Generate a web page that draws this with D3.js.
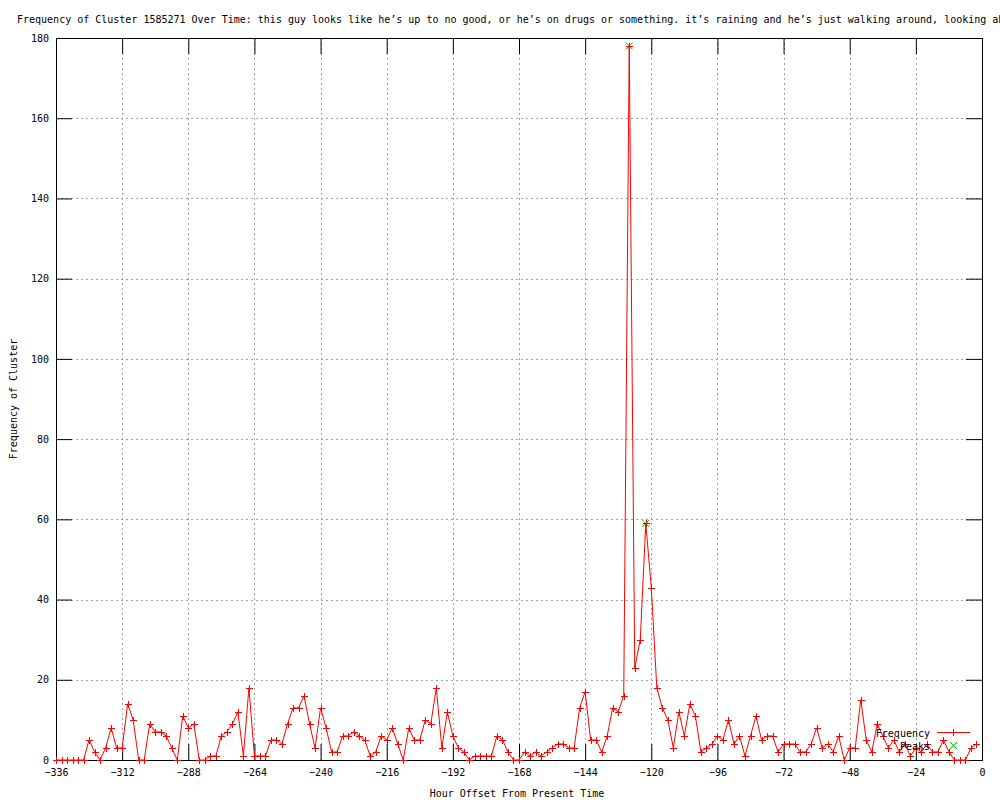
<!DOCTYPE html>
<html>
<head>
<meta charset="utf-8">
<script src="https://cdn.jsdelivr.net/npm/d3@7"></script>
<style>
    body { margin: 0; background: #fff; }
    svg { display: block; }
    text { font-family: "DejaVu Sans Mono", monospace; font-size: 10px; fill: #000; }
</style>
</head>
<body>
<div id="chart"></div>
<script>
// hour offsets, one reading every 2 hours
const hours = d3.range(-336, 0, 2);
const frequency = [
    0, 0, 0, 0, 0, 0, 5, 2, 0, 3, 8, 3, 3, 14, 10, 0, 0, 9, 7, 7,
    6, 3, 0, 11, 8, 9, 0, 0, 1, 1, 6, 7, 9, 12, 1, 18, 1, 1, 1, 5,
    5, 4, 9, 13, 13, 16, 9, 3, 13, 8, 2, 2, 6, 6, 7, 6, 5, 1, 2, 6,
    5, 8, 4, 0, 8, 5, 5, 10, 9, 18, 3, 12, 6, 3, 2, 0, 1, 1, 1, 1,
    6, 5, 2, 0, 0, 2, 1, 2, 1, 2, 3, 4, 4, 3, 3, 13, 17, 5, 5, 2,
    6, 13, 12, 16, 178, 23, 30, 59, 43, 18, 13, 10, 3, 12, 6, 14, 11, 2, 3, 4,
    6, 5, 10, 4, 6, 1, 6, 11, 5, 6, 6, 2, 4, 4, 4, 2, 2, 4, 8, 3,
    4, 2, 6, 0, 3, 3, 15, 5, 2, 9, 6, 3, 5, 2, 4, 1, 3, 2, 4, 2,
    2, 5, 2, 0, 0, 0, 3, 4
];
const peakHours = [-128, -122];
const peakValues = [178, 59];

const xTicks = d3.range(-336, 1, 24);
const yTicks = d3.range(0, 181, 20);

const titleText = "Frequency of Cluster 1585271 Over Time: this guy looks like he\u2019s up to no good, or he\u2019s on drugs or something. it\u2019s raining and he\u2019s just walking around, looking ab";

const red = "#ff0000";
const green = "#00c000";

const margin = { top: 38, right: 18, bottom: 40, left: 56 };
const width = 1000 - margin.left - margin.right;
const height = 800 - margin.top - margin.bottom;

const svg = d3.select("#chart").append("svg")
    .attr("width", 1000)
    .attr("height", 800);

const g = svg.append("g")
    .attr("transform", `translate(${margin.left}, ${margin.top})`);

const x = d3.scaleLinear().domain([-336, 0]).range([0, width]);
const y = d3.scaleLinear().domain([0, 180]).range([height, 0]);

// dotted grid
g.append("g")
    .selectAll("line.vgrid")
    .data(xTicks.slice(1, -1))
    .join("line")
    .attr("x1", d => Math.round(x(d)) + 0.5)
    .attr("x2", d => Math.round(x(d)) + 0.5)
    .attr("y1", 0)
    .attr("y2", height)
    .attr("stroke", "#a0a0a0")
    .attr("stroke-dasharray", "2,3");

g.append("g")
    .selectAll("line.hgrid")
    .data(yTicks.slice(1, -1))
    .join("line")
    .attr("x1", 0)
    .attr("x2", width)
    .attr("y1", d => Math.round(y(d)) + 0.5)
    .attr("y2", d => Math.round(y(d)) + 0.5)
    .attr("stroke", "#a0a0a0")
    .attr("stroke-dasharray", "2,3");

// axes with inward ticks, mirrored on top and right
const tickLen = 16;
const fmt = d => (d < 0 ? "\u2212" + Math.abs(d) : "" + d);

const xBottom = g.append("g")
    .attr("transform", `translate(0, ${height})`)
    .call(d3.axisBottom(x).tickValues(xTicks).tickSizeInner(-tickLen).tickSizeOuter(0).tickPadding(9).tickFormat(fmt));
const xTop = g.append("g")
    .call(d3.axisTop(x).tickValues(xTicks).tickSizeInner(-tickLen).tickSizeOuter(0).tickFormat(""));
const yLeft = g.append("g")
    .call(d3.axisLeft(y).tickValues(yTicks).tickSizeInner(-tickLen).tickSizeOuter(0).tickPadding(7).tickFormat(fmt));
const yRight = g.append("g")
    .attr("transform", `translate(${width}, 0)`)
    .call(d3.axisRight(y).tickValues(yTicks).tickSizeInner(-tickLen).tickSizeOuter(0).tickFormat(""));

[xBottom, xTop, yLeft, yRight].forEach(a => {
    a.select(".domain").remove();
    a.selectAll("line").attr("stroke", "#000");
    a.selectAll("text")
        .style("font-family", "'DejaVu Sans Mono', monospace")
        .style("font-size", "10px")
        .attr("fill", "#000");
});

// frame
g.append("rect")
    .attr("x", 0.5)
    .attr("y", 0.5)
    .attr("width", width)
    .attr("height", height)
    .attr("fill", "none")
    .attr("stroke", "#000");

// data line
const pts = hours.map((h, i) => [h, frequency[i]]);

g.append("path")
    .datum(pts)
    .attr("fill", "none")
    .attr("stroke", red)
    .attr("stroke-width", 1)
    .attr("d", d3.line().x(d => x(d[0])).y(d => y(d[1])));

const plusPath = (cx, cy, r) => `M${cx - r},${cy}H${cx + r}M${cx},${cy - r}V${cy + r}`;
const crossPath = (cx, cy, r) => `M${cx - r},${cy - r}L${cx + r},${cy + r}M${cx - r},${cy + r}L${cx + r},${cy - r}`;

// peaks (green x) drawn under the red +
g.append("g")
    .selectAll("path")
    .data(peakHours.map((h, i) => [h, peakValues[i]]))
    .join("path")
    .attr("d", d => crossPath(x(d[0]), y(d[1]), 3.5))
    .attr("stroke", green)
    .attr("fill", "none");

g.append("g")
    .selectAll("path")
    .data(pts)
    .join("path")
    .attr("d", d => plusPath(Math.round(x(d[0])) + 0.5, Math.round(y(d[1])) + 0.5, 3.5))
    .attr("stroke", red)
    .attr("fill", "none");

// legend
const legend = svg.append("g").attr("transform", "translate(930, 0)");
legend.append("text")
    .attr("x", 0).attr("y", 736.5)
    .attr("text-anchor", "end")
    .text("Frequency");
legend.append("line")
    .attr("x1", 7).attr("x2", 40)
    .attr("y1", 732.5).attr("y2", 732.5)
    .attr("stroke", red);
legend.append("path")
    .attr("d", plusPath(23.5, 732.5, 3.5))
    .attr("stroke", red);
legend.append("text")
    .attr("x", 0).attr("y", 750)
    .attr("text-anchor", "end")
    .text("Peaks");
legend.append("path")
    .attr("d", crossPath(23.5, 745.5, 3.5))
    .attr("stroke", green);

// title and axis labels
svg.append("text")
    .attr("x", 17)
    .attr("y", 23)
    .text(titleText);

svg.append("text")
    .attr("x", margin.left + width / 2 - 2)
    .attr("y", 797)
    .attr("text-anchor", "middle")
    .text("Hour Offset From Present Time");

svg.append("text")
    .attr("transform", `translate(17, ${margin.top + height / 2}) rotate(-90)`)
    .attr("text-anchor", "middle")
    .text("Frequency of Cluster");
</script>
</body>
</html>
